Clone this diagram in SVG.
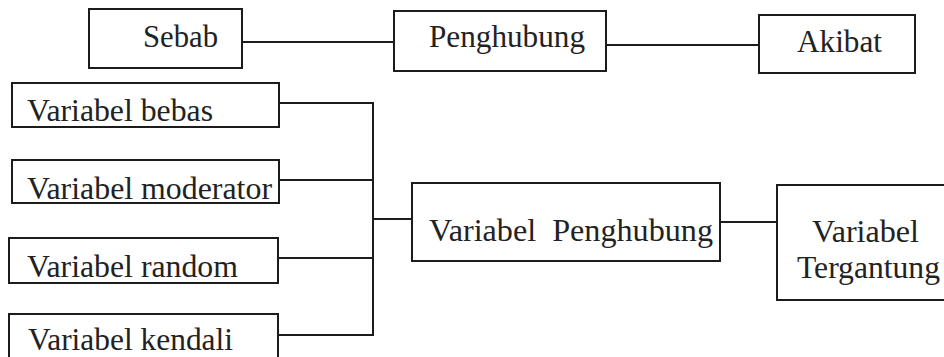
<svg xmlns="http://www.w3.org/2000/svg" width="944" height="357" viewBox="0 0 944 357">
<style>
.box{fill:#fff;stroke:#1c1c1c;stroke-width:2}
.ln{fill:none;stroke:#1c1c1c;stroke-width:2}
.t{font-family:'Liberation Serif','Times New Roman',serif;font-size:32px;fill:#222}
</style>
<rect width="944" height="357" fill="#fff"/>
<g id="connectors">
<line class="ln" x1="242" y1="42" x2="394" y2="42"/>
<line class="ln" x1="606" y1="45" x2="759" y2="45"/>
<polyline class="ln" points="279,103 373,103 373,335 278,335"/>
<line class="ln" x1="279" y1="180" x2="373" y2="180"/>
<line class="ln" x1="278" y1="258" x2="373" y2="258"/>
<line class="ln" x1="373" y1="219" x2="412" y2="219"/>
<line class="ln" x1="720" y1="222" x2="777" y2="222"/>
</g>
<g class="t">
<g id="sebab">
<rect class="box" x="89" y="9" width="153" height="59"/>
<text x="143" y="47" textLength="75" lengthAdjust="spacingAndGlyphs">Sebab</text>
</g>
<g id="penghubung">
<rect class="box" x="394" y="11" width="212" height="60"/>
<text x="429" y="47" textLength="156" lengthAdjust="spacingAndGlyphs">Penghubung</text>
</g>
<g id="akibat">
<rect class="box" x="759" y="15" width="156" height="58"/>
<text x="797" y="52" textLength="85" lengthAdjust="spacingAndGlyphs">Akibat</text>
</g>
<g id="variabel-bebas">
<rect class="box" x="12" y="83" width="267" height="44"/>
<text x="27" y="121" textLength="186" lengthAdjust="spacingAndGlyphs">Variabel bebas</text>
</g>
<g id="variabel-moderator">
<rect class="box" x="12" y="160" width="267" height="43"/>
<text x="27" y="199" textLength="245" lengthAdjust="spacingAndGlyphs">Variabel moderator</text>
</g>
<g id="variabel-random">
<rect class="box" x="9" y="238" width="269" height="45"/>
<text x="27" y="277" textLength="211" lengthAdjust="spacingAndGlyphs">Variabel random</text>
</g>
<g id="variabel-kendali">
<rect class="box" x="9" y="314" width="269" height="60"/>
<text x="28" y="350" textLength="205" lengthAdjust="spacingAndGlyphs">Variabel kendali</text>
</g>
<g id="variabel-penghubung">
<rect class="box" x="412" y="183" width="308" height="78"/>
<text x="429" y="241" textLength="284" lengthAdjust="spacingAndGlyphs" xml:space="preserve">Variabel  Penghubung</text>
</g>
<g id="variabel-tergantung">
<rect class="box" x="777" y="185" width="180" height="115"/>
<text x="812" y="242" textLength="107" lengthAdjust="spacingAndGlyphs">Variabel</text>
<text x="797" y="278" textLength="143" lengthAdjust="spacingAndGlyphs">Tergantung</text>
</g>
</g>
</svg>
